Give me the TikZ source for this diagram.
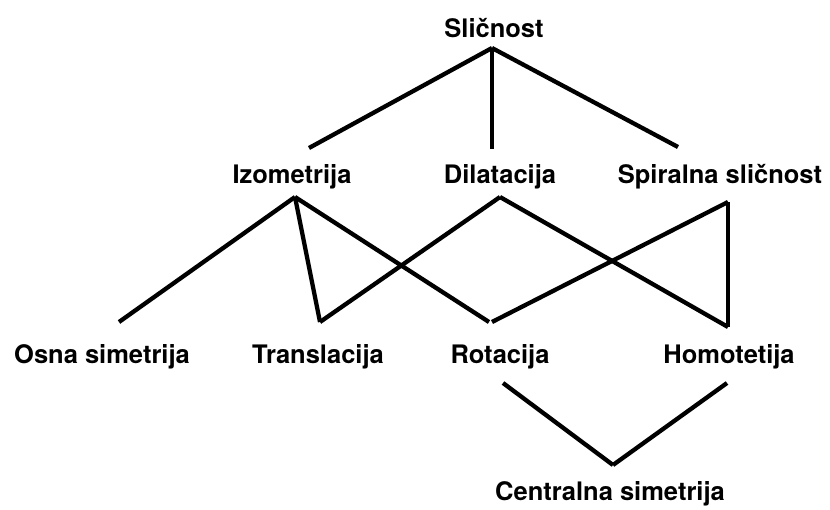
\documentclass[tikz,border=0pt]{standalone}
\usepackage{fontspec}
\setmainfont{TeX Gyre Heros}

\begin{document}
\begin{tikzpicture}[x=1pt, y=-1pt,
    term/.style={anchor=base, inner sep=0pt, font=\fontsize{25.5}{30}\selectfont\bfseries},
    link/.style={line width=4.3pt}]

    \useasboundingbox (0,0) rectangle (830,509);

    \node [term] (slicnost) at (494,37) {Sličnost};

    \node [term] (izometrija) at (292,183) {Izometrija};
    \node [term] (dilatacija) at (500,183) {Dilatacija};
    \node [term] (spiralna) at (720,183) {Spiralna sličnost};

    \node [term] (osna) at (102,363) {Osna simetrija};
    \node [term] (translacija) at (318,363) {Translacija};
    \node [term] (rotacija) at (500,363) {Rotacija};
    \node [term] (homotetija) at (729,363) {Homotetija};

    \node [term] (centralna) at (610,500) {Centralna simetrija};

    % attachment points of the lines
    \coordinate (slicnost-d) at (492,48);
    \coordinate (izometrija-u) at (309,148);
    \coordinate (dilatacija-u) at (492,149);
    \coordinate (spiralna-u) at (678,147);
    \coordinate (izometrija-d) at (295,197);
    \coordinate (dilatacija-d) at (500,197);
    \coordinate (spiralna-d) at (728,202);
    \coordinate (osna-u) at (119,322);
    \coordinate (translacija-u) at (320,322);
    \coordinate (rotacija-ul) at (489,322);
    \coordinate (rotacija-ur) at (492,322);
    \coordinate (homotetija-u) at (728,327);
    \coordinate (rotacija-d) at (503,383);
    \coordinate (homotetija-d) at (727,383);
    \coordinate (centralna-u) at (613,465);

    \draw[link] (slicnost-d) -- (izometrija-u);
    \draw[link] (slicnost-d) -- (dilatacija-u);
    \draw[link] (slicnost-d) -- (spiralna-u);

    \draw[link] (izometrija-d) -- (osna-u);
    \draw[link] (izometrija-d) -- (translacija-u);
    \draw[link] (izometrija-d) -- (rotacija-ul);
    \draw[link] (dilatacija-d) -- (translacija-u);
    \draw[link] (dilatacija-d) -- (homotetija-u);
    \draw[link] (spiralna-d) -- (rotacija-ur);
    \draw[link] (spiralna-d) -- (homotetija-u);

    \draw[link] (rotacija-d) -- (centralna-u);
    \draw[link] (homotetija-d) -- (centralna-u);

\end{tikzpicture}
\end{document}
